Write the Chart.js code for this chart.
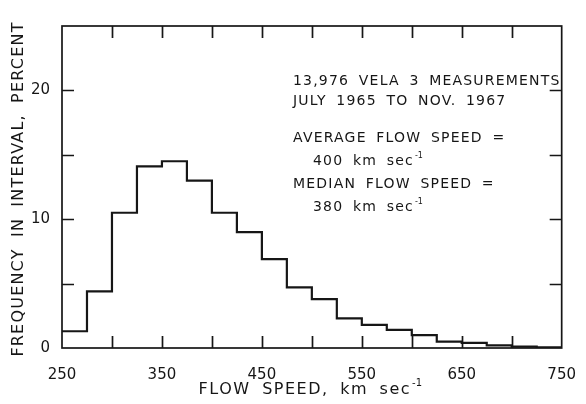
<!DOCTYPE html>
<html>
<head>
<meta charset="utf-8">
<script src="https://cdn.jsdelivr.net/npm/chart.js@4.4.0/dist/chart.umd.min.js"></script>
<style>
  html, body { margin: 0; padding: 0; background: #fff; }
  canvas { display: block; }
</style>
</head>
<body>
<canvas id="speedChart" width="586" height="404"></canvas>
<script>
// flow speed bins, 25 km/s wide (edges) and share of measurements per bin (%)
const binEdges = [250, 275, 300, 325, 350, 375, 400, 425, 450, 475, 500,
                  525, 550, 575, 600, 625, 650, 675, 700, 725, 750];
const freqPct = [1.3, 4.4, 10.5, 14.1, 14.5, 13.0, 10.5, 9.0, 6.9, 4.7,
                 3.8, 2.3, 1.8, 1.4, 1.0, 0.5, 0.4, 0.2, 0.1, 0.05];

// axis labels and inner tick marks
const xLabels = [250, 350, 450, 550, 650, 750];
const yLabels = [0, 10, 20];
const xMarks = [300, 350, 400, 450, 500, 550, 600, 650, 700];
const yMarks = [5, 10, 15, 20];

// legend block, [text, superscript, indent]
const noteLines = [
    ['13,976 VELA 3 MEASUREMENTS', '', 0],
    ['JULY 1965 TO NOV. 1967', '', 0],
    ['AVERAGE FLOW SPEED =', '', 0],
    ['400 km sec', '-1', 1],
    ['MEDIAN FLOW SPEED =', '', 0],
    ['380 km sec', '-1', 1]
];
const noteY = [81, 101.5, 138, 161.5, 184, 207.5];

const INK = '#161616';
const FONT = '"DejaVu Sans", sans-serif';

// text with letter/word spacing + optional superscript
function spacedText(ctx, str, sup, x, y, size, ls, ws, align) {
    ctx.font = size + 'px ' + FONT;
    ctx.letterSpacing = ls + 'px';
    ctx.wordSpacing = ws + 'px';
    let w = ctx.measureText(str).width;
    let supW = 0;
    if (sup) {
        ctx.font = Math.round(size * 0.6) + 'px ' + FONT;
        ctx.letterSpacing = '0px';
        ctx.wordSpacing = '0px';
        supW = ctx.measureText(sup).width + 2;
    }
    let x0 = align === 'center' ? x - (w + supW) / 2 : x;
    ctx.font = size + 'px ' + FONT;
    ctx.letterSpacing = ls + 'px';
    ctx.wordSpacing = ws + 'px';
    ctx.textAlign = 'left';
    ctx.textBaseline = 'middle';
    ctx.fillText(str, x0, y);
    if (sup) {
        ctx.font = Math.round(size * 0.6) + 'px ' + FONT;
        ctx.letterSpacing = '0px';
        ctx.wordSpacing = '0px';
        ctx.fillText(sup, x0 + w + 1, y - size * 0.42);
    }
}

const frameTicks = {
    id: 'frameTicks',
    afterDatasetsDraw(chart) {
        const { ctx, chartArea: a, scales: { x, y } } = chart;
        const len = 12;
        ctx.save();
        ctx.strokeStyle = INK;
        ctx.lineWidth = 1.7;
        ctx.strokeRect(a.left, a.top, a.width, a.height);
        ctx.beginPath();
        xMarks.forEach(v => {
            const px = Math.round(x.getPixelForValue(v)) + 0.5;
            ctx.moveTo(px, a.bottom); ctx.lineTo(px, a.bottom - len);
            ctx.moveTo(px, a.top); ctx.lineTo(px, a.top + len);
        });
        yMarks.forEach(v => {
            const py = Math.round(y.getPixelForValue(v)) + 0.5;
            ctx.moveTo(a.left, py); ctx.lineTo(a.left + len, py);
            ctx.moveTo(a.right, py); ctx.lineTo(a.right - len, py);
        });
        ctx.stroke();

        ctx.fillStyle = INK;
        // axis titles
        spacedText(ctx, 'FLOW SPEED, km sec', '-1', (a.left + a.right) / 2 - 1, 390, 16, 1.5, 5, 'center');
        ctx.save();
        ctx.translate(19, (a.top + a.bottom) / 2 + 2);
        ctx.rotate(-Math.PI / 2);
        spacedText(ctx, 'FREQUENCY IN INTERVAL, PERCENT', '', 0, 0, 16, 1.2, 5, 'center');
        ctx.restore();

        // measurement note
        noteLines.forEach((ln, i) => {
            spacedText(ctx, ln[0], ln[1], 293 + ln[2] * 20, noteY[i], 14, 1.2, 4, 'left');
        });
        ctx.restore();
    }
};

new Chart(document.getElementById('speedChart'), {
    type: 'line',
    data: {
        datasets: [{
            data: binEdges.map((v, i) => ({ x: v, y: freqPct[Math.min(i, freqPct.length - 1)] })),
            stepped: 'before',
            borderColor: INK,
            borderWidth: 2.2,
            pointRadius: 0,
            fill: false
        }]
    },
    options: {
        responsive: false,
        animation: false,
        devicePixelRatio: 1,
        layout: { padding: { top: 26, right: 13, left: 0, bottom: 0 } },
        plugins: { legend: { display: false }, tooltip: { enabled: false } },
        scales: {
            x: {
                type: 'linear', min: 250, max: 750,
                afterBuildTicks: s => { s.ticks = xLabels.map(v => ({ value: v })); },
                afterFit: s => { s.height = 56; },
                grid: { display: false },
                border: { display: false },
                ticks: { color: INK, font: { family: FONT, size: 15 }, padding: 10, maxRotation: 0, autoSkip: false }
            },
            y: {
                min: 0, max: 25,
                afterBuildTicks: s => { s.ticks = yLabels.map(v => ({ value: v })); },
                afterFit: s => { s.width = 62; },
                grid: { display: false },
                border: { display: false },
                ticks: { color: INK, font: { family: FONT, size: 15 }, padding: 4 }
            }
        }
    },
    plugins: [frameTicks]
});
</script>
</body>
</html>
